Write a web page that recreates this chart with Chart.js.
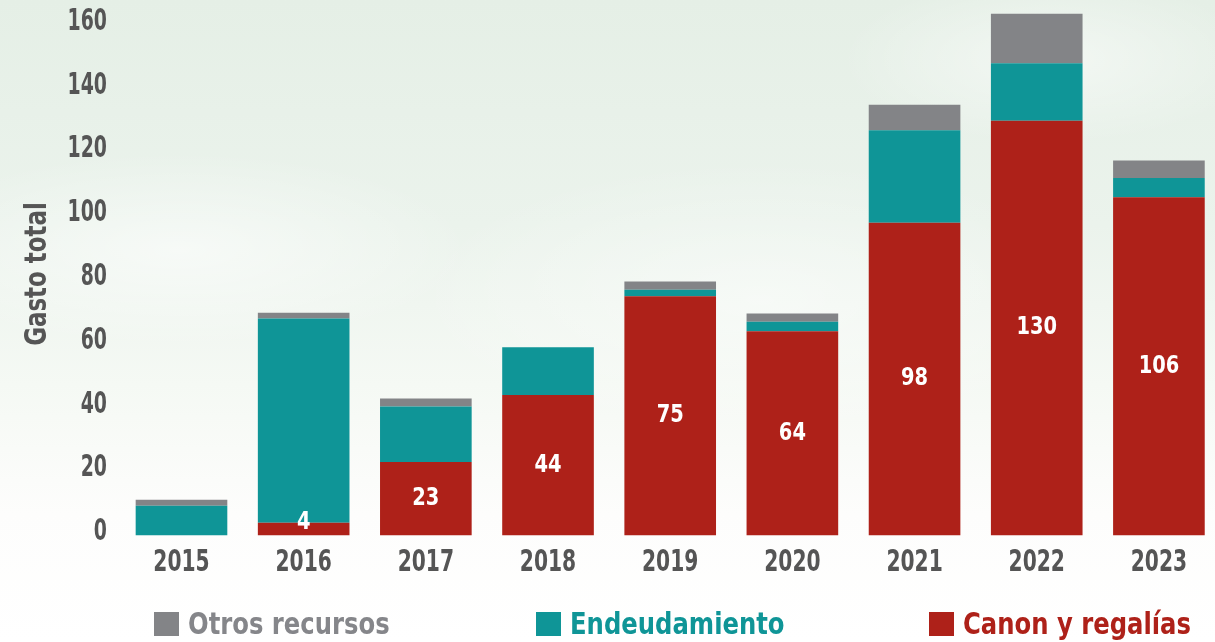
<!DOCTYPE html>
<html>
<head>
<meta charset="utf-8">
<script src="https://cdn.jsdelivr.net/npm/chart.js@4.4.1/dist/chart.umd.min.js"></script>
<style>
  html, body { margin: 0; padding: 0; width: 1215px; height: 642px; overflow: hidden; }
  body {
    position: relative;
    background:
      radial-gradient(ellipse 420px 140px at 180px 250px, rgba(255,255,255,0.55), rgba(255,255,255,0) 70%),
      radial-gradient(ellipse 500px 200px at 760px 300px, rgba(255,255,255,0.45), rgba(255,255,255,0) 70%),
      radial-gradient(ellipse 300px 120px at 1050px 60px, rgba(255,255,255,0.5), rgba(255,255,255,0) 70%),
      linear-gradient(to bottom, #e5efe6 0%, #ebf3ec 35%, #f5f9f4 60%, #fdfdfc 80%, #ffffff 100%);
    font-family: 'DejaVu Sans Condensed', sans-serif;
  }
  #wrap { position: absolute; left: 0; top: 0; width: 1230px; height: 642px; }
  .leg { position: absolute; top: 606px; font-weight: bold; font-size: 30px; white-space: nowrap; line-height: 36px; }
  .leg .box { position: absolute; left: 0; top: 6px; width: 25px; height: 24px; }
  .leg .txt { position: absolute; left: 34px; top: 0; transform: scaleX(0.9); transform-origin: left center; }
</style>
</head>
<body>
<div id="wrap"><canvas id="chart"></canvas></div>
<div class="leg" style="left:154px; color:#85868a;"><span class="box" style="background:#838487"></span><span class="txt">Otros recursos</span></div>
<div class="leg" style="left:536px; color:#0f9597;"><span class="box" style="background:#0f9597"></span><span class="txt">Endeudamiento</span></div>
<div class="leg" style="left:929px; color:#ae2119;"><span class="box" style="background:#ae2119"></span><span class="txt">Canon y regalías</span></div>
<script>
const years = ['2015', '2016', '2017', '2018', '2019', '2020', '2021', '2022', '2023'];
const canon = [0, 4, 23, 44, 75, 64, 98, 130, 106];
const endeudamiento = [9.3, 64, 17.4, 15, 2, 3, 29, 18, 6];
const otros = [1.9, 1.8, 2.5, 0, 2.6, 2.6, 8, 15.5, 5.5];
const yTicks = [0, 20, 40, 60, 80, 100, 120, 140, 160];

const FONT = "'DejaVu Sans Condensed', sans-serif";
const TICK_COLOR = '#555555';

function squeezeText(ctx, text, x, y, sx) {
  ctx.save();
  ctx.translate(x, y);
  ctx.scale(sx, 1);
  ctx.fillText(text, 0, 0);
  ctx.restore();
}

// axis labels, axis title and the white values inside the canon bars
const textLayer = {
  id: 'textLayer',
  afterDraw(chart) {
    const ctx = chart.ctx;
    const xs = chart.scales.x, ys = chart.scales.y;
    ctx.save();
    ctx.fillStyle = TICK_COLOR;
    ctx.textBaseline = 'middle';

    ctx.font = 'bold 30px ' + FONT;
    ctx.textAlign = 'right';
    yTicks.forEach(v => squeezeText(ctx, String(v), 107, ys.getPixelForValue(v) - 3, 0.7));

    ctx.textAlign = 'center';
    years.forEach((yr, i) => squeezeText(ctx, yr, xs.getPixelForTick(i), 563, 0.75));

    ctx.save();
    ctx.translate(38, 274);
    ctx.rotate(-Math.PI / 2);
    ctx.scale(0.85, 1);
    ctx.fillText('Gasto total', 0, 0);
    ctx.restore();

    ctx.fillStyle = '#ffffff';
    ctx.font = 'bold 24px ' + FONT;
    const meta = chart.getDatasetMeta(0);
    meta.data.forEach((bar, i) => {
      const v = canon[i];
      if (!v) return;
      let y = (bar.y + bar.base) / 2;
      y = Math.min(y, bar.base - 13);
      squeezeText(ctx, String(v), bar.x, y, 0.9);
    });
    ctx.restore();
  }
};

const canvas = document.getElementById('chart');
canvas.width = 1230;
canvas.height = 642;

new Chart(canvas.getContext('2d'), {
  type: 'bar',
  data: {
    labels: years,
    datasets: [
      { label: 'Canon y regalías', data: canon, backgroundColor: '#ae2119' },
      { label: 'Endeudamiento', data: endeudamiento, backgroundColor: '#0f9597' },
      { label: 'Otros recursos', data: otros, backgroundColor: '#838487' }
    ]
  },
  options: {
    responsive: false,
    animation: false,
    layout: { padding: { top: 0, right: 10, bottom: 0, left: 0 } },
    datasets: { bar: { categoryPercentage: 0.75, barPercentage: 1.0 } },
    plugins: { legend: { display: false }, tooltip: { enabled: false } },
    scales: {
      x: {
        stacked: true,
        grid: { display: false },
        border: { display: false },
        ticks: { display: false },
        afterFit(scale) { scale.height = 106.5; }
      },
      y: {
        stacked: true,
        min: 0,
        max: 167.8,
        grid: { display: false },
        border: { display: false },
        ticks: { display: false },
        afterFit(scale) { scale.width = 120.4; }
      }
    }
  },
  plugins: [textLayer]
});
</script>
</body>
</html>
